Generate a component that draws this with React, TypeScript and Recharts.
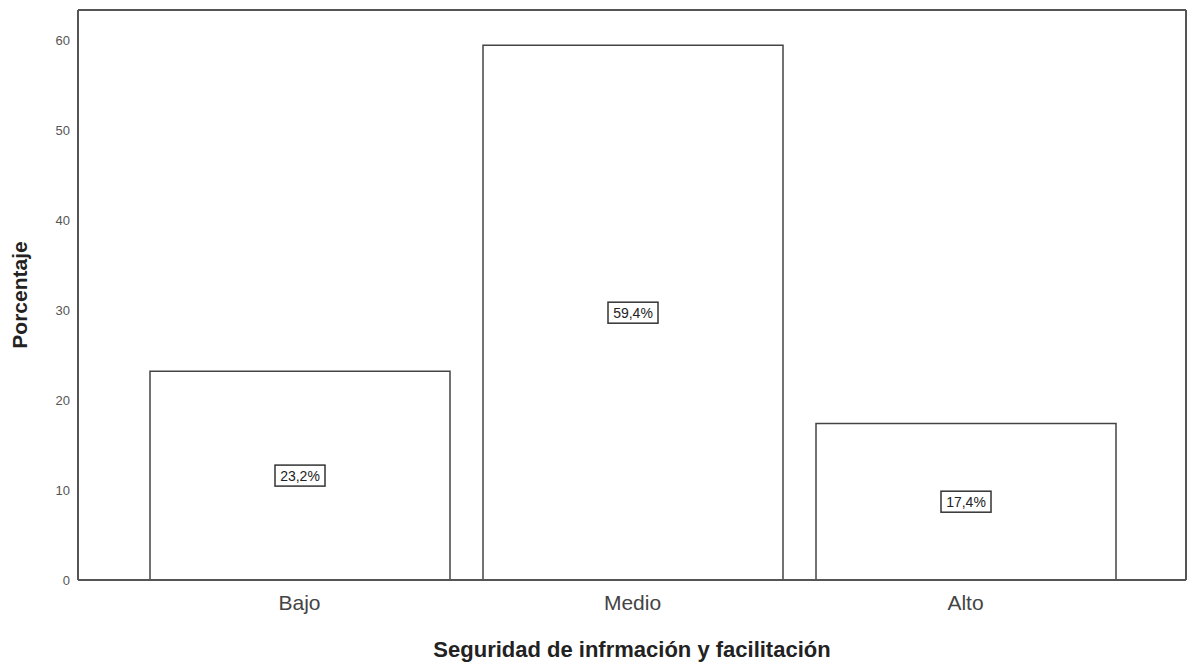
import { BarChart, Bar, XAxis, YAxis, LabelList, CartesianGrid } from 'recharts';

const categories = ['Bajo', 'Medio', 'Alto'];
const percentages = [23.2, 59.4, 17.4];
const yTicks = [0, 10, 20, 30, 40, 50, 60];

const data = categories.map((name, i) => ({ name, value: percentages[i] }));

const font = '"Liberation Sans", Arial, sans-serif';
const lineColor = '#555';

// boxed percentage label in the middle of each bar
const BoxLabel = (props: any) => {
  const { x, y, width, height, value } = props;
  const text = `${String(value).replace('.', ',')}%`;
  const cx = x + width / 2;
  const cy = y + height / 2;
  const w = 50;
  const h = 21;
  return (
    <g>
      <rect x={cx - w / 2} y={cy - h / 2} width={w} height={h} fill="#fff" stroke="#333" strokeWidth={1.5} />
      <text x={cx} y={cy + 5} textAnchor="middle" fontSize={14} fontFamily={font} fill="#222">
        {text}
      </text>
    </g>
  );
};

export default function App() {
  return (
    <div style={{ position: 'absolute', left: 0, top: 0, background: '#fff' }}>
      <BarChart
        width={1188}
        height={662}
        data={data}
        margin={{ top: 10, right: 2, bottom: 0, left: 0 }}
      >
        {/* frame: top and right edges of the plot area */}
        <CartesianGrid
          stroke={lineColor}
          strokeWidth={2}
          horizontalCoordinatesGenerator={({ offset }: any) => [offset.top]}
          verticalCoordinatesGenerator={({ offset }: any) => [offset.left + offset.width]}
        />
        <XAxis
          dataKey="name"
          height={82}
          padding={{ left: 55, right: 54 }}
          tickLine={false}
          tickSize={0}
          tickMargin={15}
          axisLine={{ stroke: lineColor, strokeWidth: 2 }}
          tick={{ fontSize: 21, fill: '#444', fontFamily: font }}
          label={{
            value: 'Seguridad de infrmación y facilitación',
            position: 'insideBottom',
            offset: 5,
            style: { fontSize: 22, fontWeight: 'bold', fill: '#222', fontFamily: font },
          }}
        />
        <YAxis
          width={78}
          domain={[0, 63.33]}
          ticks={yTicks}
          tickLine={false}
          tickSize={0}
          tickMargin={8}
          axisLine={{ stroke: lineColor, strokeWidth: 2 }}
          tick={{ fontSize: 13, fill: '#555', fontFamily: font }}
          label={{
            value: 'Porcentaje',
            angle: -90,
            position: 'insideLeft',
            offset: 20,
            style: { fontSize: 21, fontWeight: 'bold', fill: '#222', fontFamily: font, textAnchor: 'middle' },
          }}
        />
        <Bar dataKey="value" barSize={300} fill="#fff" stroke="#444" strokeWidth={1.5} isAnimationActive={false}>
          <LabelList dataKey="value" content={BoxLabel} />
        </Bar>
      </BarChart>
    </div>
  );
}
